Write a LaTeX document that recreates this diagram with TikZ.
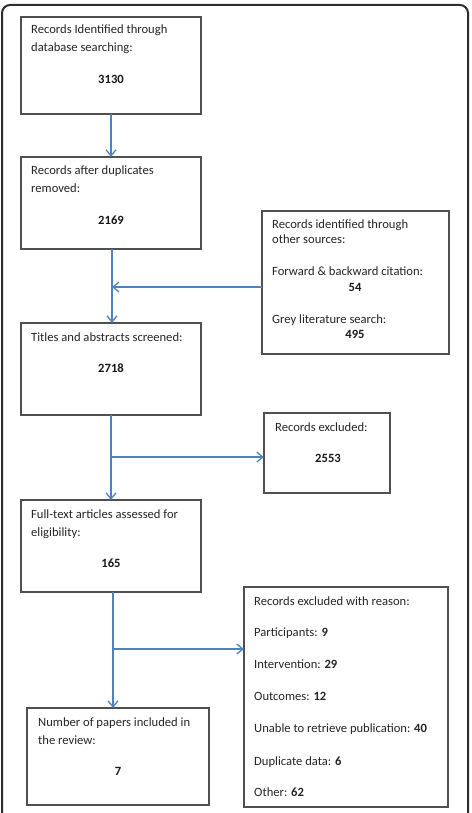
\documentclass[tikz,border=0pt]{standalone}
\usepackage{fontspec}
\setmainfont{Carlito}
\usetikzlibrary{arrows.meta}
\definecolor{arrblue}{RGB}{79,129,189}
\definecolor{boxgray}{RGB}{80,80,80}
\definecolor{framegray}{RGB}{45,45,45}
\begin{document}
\begin{tikzpicture}[x=1pt,y=-1pt,
  box/.style={draw=boxgray,line width=1.2pt,fill=white},
  txt/.style={anchor=base west,inner sep=0pt,font=\fontsize{12.6}{18}\selectfont,text=black!85},
  num/.style={anchor=base,inner sep=0pt,font=\fontsize{12.6}{18}\selectfont\bfseries,text=black!90},
  arr/.style={draw=arrblue,line width=1.3pt,-{Straight Barb[length=6pt,width=10pt]}},
  ln/.style={draw=arrblue,line width=1.3pt}]
\useasboundingbox (0,0) rectangle (471,813);
\draw[framegray,line width=2pt,rounded corners=8pt] (2,5) rectangle (468,840);

% boxes
\path[box] (21,17) rectangle (201,114);
\node[inner sep=0pt,minimum width=180pt,minimum height=97pt] (b1) at (111,65.5) {};
\path[box] (21,157) rectangle (201,249);
\node[inner sep=0pt,minimum width=180pt,minimum height=92pt] (b2) at (111,203) {};
\path[box] (262,211) rectangle (449,354);
\node[inner sep=0pt,minimum width=187pt,minimum height=143pt] (bo) at (355.5,282.5) {};
\path[box] (21,323) rectangle (201,415);
\node[inner sep=0pt,minimum width=180pt,minimum height=92pt] (b3) at (111,369) {};
\path[box] (264,413) rectangle (390,493);
\node[inner sep=0pt,minimum width=126pt,minimum height=80pt] (bx) at (327,453) {};
\path[box] (21,500) rectangle (201,592);
\node[inner sep=0pt,minimum width=180pt,minimum height=92pt] (b4) at (111,546) {};
\path[box] (244,587) rectangle (448,807);
\node[inner sep=0pt,minimum width=204pt,minimum height=220pt] (br) at (346,697) {};
\path[box] (27,708) rectangle (209,805);
\node[inner sep=0pt,minimum width=182pt,minimum height=97pt] (b5) at (118,756.5) {};

% texts
\node[txt] (t1a) at (31,34) {Records Identified through};
\node[txt] (t1b) at (31,52) {database searching:};
\node[num] (n1) at (111,84) {3130};

\node[txt] (t2a) at (31,175) {Records after duplicates};
\node[txt] (t2b) at (31,193) {removed:};
\node[num] (n2) at (111,224) {2169};

\node[txt] (toa) at (272,228) {Records identified through};
\node[txt] (tob) at (272,243) {other sources:};
\node[txt] (toc) at (272,275) {Forward \& backward citation:};
\node[num] (noc) at (355,291) {54};
\node[txt] (tod) at (272,323) {Grey literature search:};
\node[num] (nod) at (355,338) {495};

\node[txt] (t3a) at (31,341) {Titles and abstracts screened:};
\node[num] (n3) at (111,372) {2718};

\node[txt] (txa) at (275,431) {Records excluded:};
\node[num] (nx) at (328,462) {2553};

\node[txt] (t4a) at (31,518) {Full-text articles assessed for};
\node[txt] (t4b) at (31,536) {eligibility:};
\node[num] (n4) at (111,567) {165};

\node[txt] (tra) at (254,605) {Records excluded with reason:};
\node[txt] (trb) at (254,636) {Participants: \textbf{9}};
\node[txt] (trc) at (254,668) {Intervention: \textbf{29}};
\node[txt] (trd) at (254,700) {Outcomes: \textbf{12}};
\node[txt] (tre) at (254,732) {Unable to retrieve publication: \textbf{40}};
\node[txt] (trf) at (254,765) {Duplicate data: \textbf{6}};
\node[txt] (trg) at (254,796) {Other: \textbf{62}};

\node[txt] (t5a) at (38,726) {Number of papers included in};
\node[txt] (t5b) at (38,744) {the review:};
\node[num] (n5) at (118,775) {7};

% connectors
\draw[arr] (b1.south) -- (b2.north);
\coordinate (j1) at (112,287);
\draw[arr] (b2.south -| j1) -- (b3.north -| j1);
\draw[arr] (bo.west |- j1) -- (j1);
\coordinate (j2) at (111,457);
\draw[arr] (b3.south) -- (b4.north);
\draw[arr] (j2) -- (bx.west |- j2);
\coordinate (j3) at (113,649);
\draw[arr] (b4.south -| j3) -- (b5.north -| j3);
\draw[arr] (j3) -- (br.west |- j3);
\end{tikzpicture}
\end{document}
